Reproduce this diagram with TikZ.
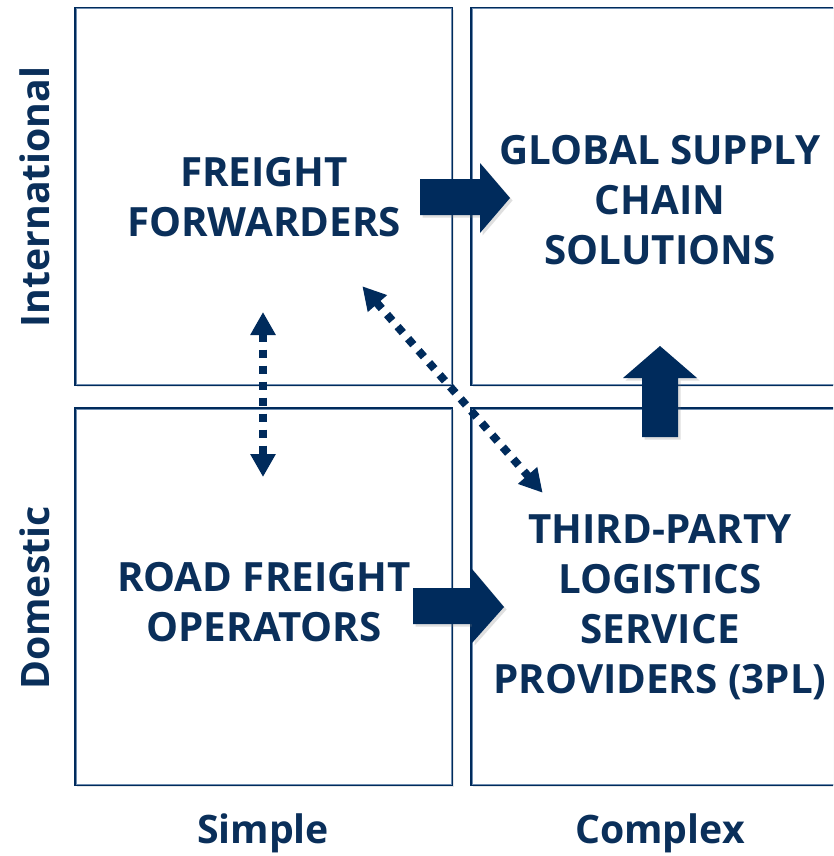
\documentclass[tikz,border=0pt]{standalone}
\usepackage{fontspec}
\setmainfont{Open Sans}
\usetikzlibrary{arrows.meta,shadows}
\definecolor{navy}{HTML}{002B5C}
\definecolor{txtnavy}{HTML}{0A2F5A}
\definecolor{innerblue}{HTML}{6F8DB0}
\begin{document}
\begin{tikzpicture}[x=1pt,y=-1pt,
  quad/.style={draw=navy,line width=2.2pt,fill=white,minimum width=377pt,minimum height=377pt,inner sep=0pt,
    drop shadow={opacity=0.18,shadow xshift=2pt,shadow yshift=-2pt}},
  lbl/.style={text=txtnavy,font=\bfseries\fontsize{40.3}{50}\selectfont,align=center,inner sep=0pt},
  axis/.style={text=txtnavy,font=\bfseries\fontsize{39.2}{44}\selectfont,inner sep=0pt},
  blockarrow/.style={fill=navy,draw=none,drop shadow={opacity=0.25,shadow xshift=2.5pt,shadow yshift=-2.5pt}},
  dotarrow/.style={draw=navy,line width=8pt,dash pattern=on 8pt off 8pt,
    {Triangle[width=24pt,length=23pt]}-{Triangle[width=24pt,length=23pt]},
    shorten <=-1pt,shorten >=-1pt}
]
\useasboundingbox (0,0) rectangle (833,856);
\clip (0,0) rectangle (833,856);
\fill[white] (0,0) rectangle (833,856);
% quadrants
\node[quad] (tl) at (263.5,196.5) {};
\node[quad] (tr) at (659.5,196.5) {};
\node[quad] (bl) at (263.5,596.5) {};
\node[quad] (br) at (659.5,596.5) {};
% inner light lines
\foreach \b in {tl,tr,bl,br}{
  \draw[innerblue,line width=0.8pt] ([xshift=2pt,yshift=-2pt]\b.north west) rectangle ([xshift=-2pt,yshift=2pt]\b.south east);
}
% labels
\node[lbl] (ff) at (264,197) {FREIGHT\\FORWARDERS};
\node[lbl] (gsc) at (660,200) {GLOBAL SUPPLY\\CHAIN\\SOLUTIONS};
\node[lbl] (rfo) at (264,602) {ROAD FREIGHT\\OPERATORS};
\node[lbl] (tpl) at (660,607) {THIRD-PARTY\\LOGISTICS\\SERVICE\\PROVIDERS (3PL)};
\node[axis] (simple) at (263,833) {Simple};
\node[axis] (complex) at (660,833) {Complex};
\node[axis,rotate=90] (intl) at (35,197) {International};
\node[axis,rotate=90] (dom) at (35,598) {Domestic};
% block arrows
\path[blockarrow] (420,179) -- (480,179) -- (480,163) -- (510,198) -- (480,233) -- (480,215) -- (420,215) -- cycle;
\path[blockarrow] (642,437) -- (642,378) -- (623,378) -- (660,346) -- (697,378) -- (678,378) -- (678,437) -- cycle;
\path[blockarrow] (413,588) -- (472,588) -- (472,569) -- (504,607) -- (472,643) -- (472,624) -- (413,624) -- cycle;
% dotted arrows
\coordinate (v1) at (263,313);
\coordinate (v2) at (263,476);
\coordinate (d1) at (363,287);
\coordinate (d2) at (542,492);
\draw[dotarrow] (v1) -- (v2);
\draw[dotarrow] (d1) -- (d2);
\end{tikzpicture}
\end{document}
